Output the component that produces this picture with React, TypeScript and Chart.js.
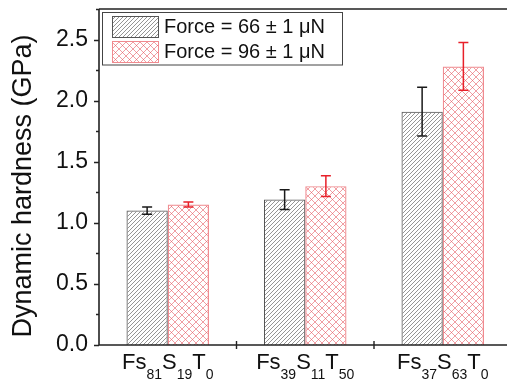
import React, { useEffect, useRef } from "react";
import { Chart, registerables } from "chart.js";

Chart.register(...registerables);

// ---- data ----
const categories = ["Fs81S19T0", "Fs39S11T50", "Fs37S63T0"];
const seriesLabels = ["Force = 66 \u00b1 1 \u03bcN", "Force = 96 \u00b1 1 \u03bcN"];
const force66 = [1.1, 1.19, 1.91];
const force66Err = [0.03, 0.08, 0.2];
const force96 = [1.15, 1.3, 2.28];
const force96Err = [0.02, 0.085, 0.195];
const yTickValues = [0, 0.5, 1.0, 1.5, 2.0, 2.5];
const yMinorStep = 0.25;
const yMin = 0;
const yMax = 2.75;
const yTitle = "Dynamic hardness (GPa)";

const FONT = "'Liberation Sans', Arial, Helvetica, sans-serif";
const W = 520;
const H = 382;

function makeDiagPattern(ctx: CanvasRenderingContext2D, s: number, color: string, lw: number) {
  const c = document.createElement("canvas");
  c.width = s;
  c.height = s;
  const g = c.getContext("2d")!;
  g.strokeStyle = color;
  g.lineWidth = lw;
  g.beginPath();
  g.moveTo(0, s);
  g.lineTo(s, 0);
  g.moveTo(-1, 1);
  g.lineTo(1, -1);
  g.moveTo(s - 1, s + 1);
  g.lineTo(s + 1, s - 1);
  g.stroke();
  return ctx.createPattern(c, "repeat")!;
}

function makeCrossPattern(ctx: CanvasRenderingContext2D, s: number, color: string, lw: number) {
  const c = document.createElement("canvas");
  c.width = s;
  c.height = s;
  const g = c.getContext("2d")!;
  g.strokeStyle = color;
  g.lineWidth = lw;
  g.beginPath();
  g.moveTo(0, s);
  g.lineTo(s, 0);
  g.moveTo(-1, 1);
  g.lineTo(1, -1);
  g.moveTo(s - 1, s + 1);
  g.lineTo(s + 1, s - 1);
  g.moveTo(0, 0);
  g.lineTo(s, s);
  g.moveTo(-1, s - 1);
  g.lineTo(1, s + 1);
  g.moveTo(s - 1, -1);
  g.lineTo(s + 1, 1);
  g.stroke();
  return ctx.createPattern(c, "repeat")!;
}

function splitLabel(label: string) {
  return (label.match(/[A-Za-z]+|\d+/g) || []).map((t) => ({ t, sub: /\d/.test(t) }));
}

export default function App() {
  const ref = useRef<HTMLCanvasElement>(null);

  useEffect(() => {
    const canvas = ref.current!;
    const ctx = canvas.getContext("2d")!;
    const blackPat = makeDiagPattern(ctx, 4, "#7a7a7a", 0.8);
    const redPat = makeCrossPattern(ctx, 7, "rgba(228,80,90,0.7)", 0.8);
    const blackBorder = "#555";
    const redBorder = "#f08a8f";
    const errColors = ["#1a1a1a", "#e8202a"];
    const errs = [force66Err, force96Err];
    const fills = [blackPat, redPat];
    const borders = [blackBorder, redBorder];

    const drawPlugin = {
      id: "customDraw",
      afterDatasetsDraw(chart: any) {
        const c = chart.ctx as CanvasRenderingContext2D;
        const y = chart.scales.y;
        chart.data.datasets.forEach((ds: any, d: number) => {
          const meta = chart.getDatasetMeta(d);
          meta.data.forEach((el: any, i: number) => {
            const v = ds.data[i];
            const e = errs[d][i];
            const yt = y.getPixelForValue(v + e);
            const yb = y.getPixelForValue(v - e);
            c.save();
            c.strokeStyle = errColors[d];
            c.lineWidth = 1.5;
            c.beginPath();
            c.moveTo(el.x, yt);
            c.lineTo(el.x, yb);
            c.moveTo(el.x - 5, yt);
            c.lineTo(el.x + 5, yt);
            c.moveTo(el.x - 5, yb);
            c.lineTo(el.x + 5, yb);
            c.stroke();
            c.restore();
          });
        });
      },
      afterDraw(chart: any) {
        const c = chart.ctx as CanvasRenderingContext2D;
        const area = chart.chartArea;
        const x = chart.scales.x;
        const y = chart.scales.y;
        c.save();
        c.strokeStyle = "#222";
        c.lineWidth = 1.6;
        c.beginPath();
        c.moveTo(area.left, area.top);
        c.lineTo(W, area.top);
        c.moveTo(area.left, area.top);
        c.lineTo(area.left, area.bottom);
        c.lineTo(W, area.bottom);
        c.stroke();
        c.lineWidth = 1.4;
        c.beginPath();
        for (let v = yMin; v <= yMax + 1e-9; v += yMinorStep) {
          const py = Math.round(y.getPixelForValue(v)) + 0.5;
          const major = yTickValues.some((t) => Math.abs(t - v) < 1e-9);
          c.moveTo(area.left, py);
          c.lineTo(area.left - (major ? 5 : 3), py);
        }
        for (let i = 0; i < categories.length - 1; i++) {
          const px = (x.getPixelForValue(i) + x.getPixelForValue(i + 1)) / 2;
          c.moveTo(px, area.bottom - 4);
          c.lineTo(px, area.bottom + 4);
        }
        c.stroke();

        c.fillStyle = "#111";
        c.textBaseline = "alphabetic";
        c.textAlign = "left";
        categories.forEach((lab, i) => {
          const parts = splitLabel(lab);
          let total = 0;
          parts.forEach((p) => {
            c.font = `${p.sub ? 14 : 22}px ${FONT}`;
            total += c.measureText(p.t).width;
          });
          let px = x.getPixelForValue(i) - total / 2;
          parts.forEach((p) => {
            c.font = `${p.sub ? 14 : 22}px ${FONT}`;
            c.fillText(p.t, px, p.sub ? 379 : 369);
            px += c.measureText(p.t).width;
          });
        });

        c.save();
        c.translate(24, 186);
        c.rotate(-Math.PI / 2);
        c.textAlign = "center";
        c.textBaseline = "middle";
        c.font = `27px ${FONT}`;
        c.fillText(yTitle, 0, 0);
        c.restore();

        c.fillStyle = "#fff";
        c.fillRect(102.5, 12.5, 240, 52.5);
        c.strokeStyle = "#444";
        c.lineWidth = 1;
        c.strokeRect(102.5, 12.5, 240, 52.5);
        const rows = [16.5, 41.5];
        rows.forEach((ry, d) => {
          c.fillStyle = fills[d];
          c.fillRect(112.5, ry, 46, 21);
          c.strokeStyle = borders[d];
          c.lineWidth = 1;
          c.strokeRect(112.5, ry, 46, 21);
          c.fillStyle = "#111";
          c.font = `20px ${FONT}`;
          c.textBaseline = "middle";
          c.textAlign = "left";
          c.fillText(seriesLabels[d], 164, ry + 11);
        });
        c.restore();
      },
    };

    const chart = new Chart(canvas, {
      type: "bar",
      data: {
        labels: categories,
        datasets: [
          {
            label: seriesLabels[0],
            data: force66,
            backgroundColor: blackPat,
            borderColor: blackBorder,
            borderWidth: 1,
          },
          {
            label: seriesLabels[1],
            data: force96,
            backgroundColor: redPat,
            borderColor: redBorder,
            borderWidth: 1.2,
          },
        ],
      },
      options: {
        responsive: false,
        animation: false,
        events: [],
        layout: { padding: { top: 9, right: W - 511.5, left: 0, bottom: 0 } },
        datasets: { bar: { categoryPercentage: 0.6, barPercentage: 1.0 } },
        plugins: {
          legend: { display: false },
          tooltip: { enabled: false },
        },
        scales: {
          x: {
            type: "category",
            offset: true,
            grid: { display: false, drawTicks: false },
            border: { display: false },
            ticks: { display: false },
            afterFit: (s: any) => {
              s.height = 37;
              s.paddingLeft = 0;
              s.paddingRight = 0;
              s.paddingTop = 0;
              s.paddingBottom = 0;
            },
          },
          y: {
            type: "linear",
            min: yMin,
            max: yMax,
            grid: { display: false, drawTicks: false, tickLength: 0 },
            border: { display: false },
            afterBuildTicks: (s: any) => {
              s.ticks = yTickValues.map((v) => ({ value: v }));
            },
            ticks: {
              padding: 11,
              color: "#111",
              font: { family: FONT, size: 23 },
              callback: (v: any) => Number(v).toFixed(1),
            },
            afterFit: (s: any) => {
              s.width = 99;
              s.paddingTop = 0;
              s.paddingBottom = 0;
              s.paddingLeft = 0;
              s.paddingRight = 0;
            },
          },
        },
      } as any,
      plugins: [drawPlugin],
    });
    return () => chart.destroy();
  }, []);

  return (
    <div style={{ position: "fixed", left: 0, top: 0, width: 507, height: 382, overflow: "hidden", background: "#fff" }}>
      <canvas ref={ref} width={W} height={H} style={{ width: W, height: H, display: "block" }} />
    </div>
  );
}
